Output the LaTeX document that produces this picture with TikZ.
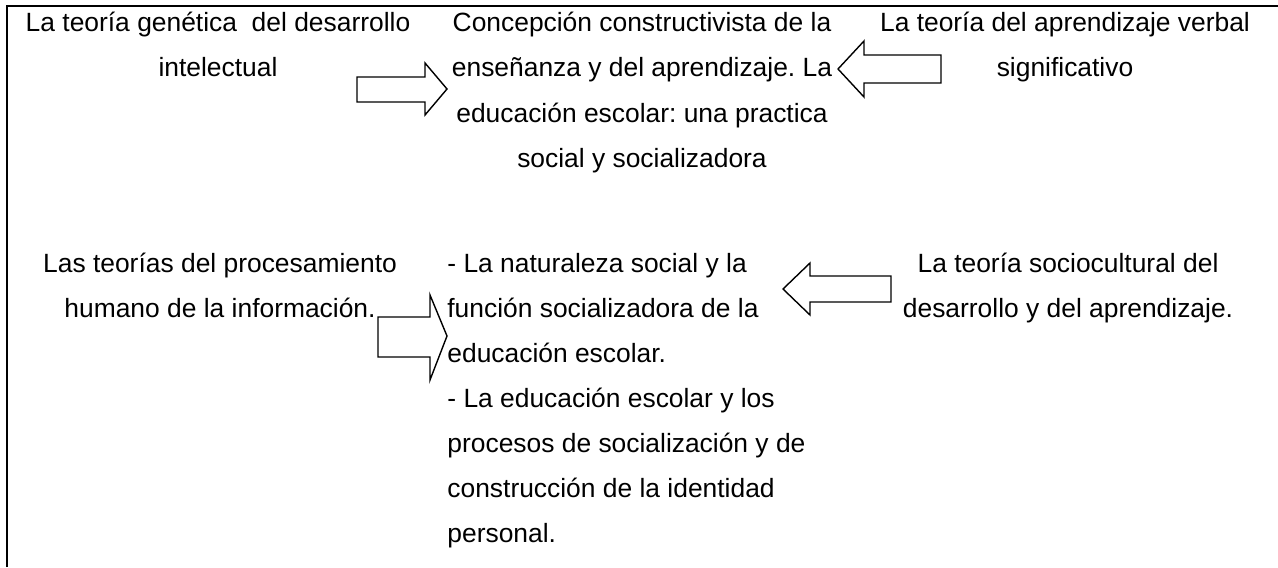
\documentclass[tikz,border=0pt]{standalone}
\usepackage{fontspec}
\setmainfont{Liberation Sans}
\usepackage{tikz}
\frenchspacing

\begin{document}
\begin{tikzpicture}[x=0.5pt,y=-0.5pt,
  txt/.style={inner sep=0pt,align=center,font=\fontsize{13.2}{22.5}\selectfont},
  blockarrow/.style={draw,line width=0.7pt,line join=miter}]
\useasboundingbox (0,0) rectangle (1278,567);
\draw[line width=1pt] (7,567) -- (7,6) -- (1278,6);
% upper row (base = last line)
\node[txt,anchor=base] (genetica) at (218,77) {La teoría genética\ \ del desarrollo\\intelectual};
\node[txt,anchor=base] (concepcion) at (642,167) {Concepción constructivista de la\\enseñanza y del aprendizaje. La\\educación escolar: una practica\\social y socializadora};
\node[txt,anchor=base] (verbal) at (1065,77) {La teoría del aprendizaje verbal\\significativo};
% lower row
\node[txt,anchor=base] (procesamiento) at (220,317) {Las teorías del procesamiento\\humano de la información.};
\node[txt,align=left,anchor=base west] (naturaleza) at (447,542) {- La naturaleza social y la\\función socializadora de la\\educación escolar.\\- La educación escolar y los\\procesos de socialización y de\\construcción de la identidad\\personal.};
\node[txt,anchor=base] (sociocultural) at (1068,317) {La teoría sociocultural del\\desarrollo y del aprendizaje.};
% arrows
\draw[blockarrow] (357,77) -- (425,77) -- (425,63) -- (447,89) -- (425,115) -- (425,102) -- (357,102) -- cycle;
\draw[blockarrow] (941,55) -- (864,55) -- (864,41) -- (838,69) -- (864,97) -- (864,83) -- (941,83) -- cycle;
\draw[blockarrow] (378,317) -- (430,317) -- (430,295) -- (447,336) -- (430,380) -- (430,357) -- (378,357) -- cycle;
\draw[blockarrow] (891,276) -- (810,276) -- (810,263) -- (783,289) -- (810,315) -- (810,302) -- (891,302) -- cycle;
\end{tikzpicture}
\end{document}
